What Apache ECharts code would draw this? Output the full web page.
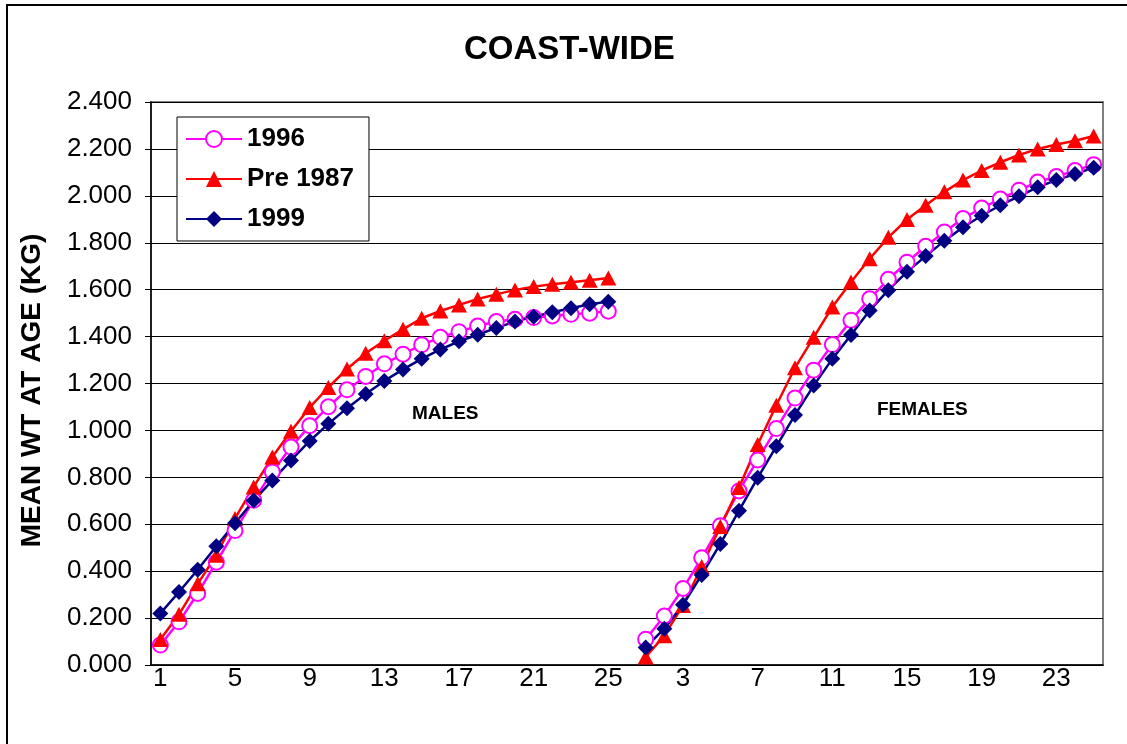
<!DOCTYPE html>
<html>
<head>
<meta charset="utf-8">
<script src="https://cdn.jsdelivr.net/npm/echarts@6/dist/echarts.min.js"></script>
<style>html,body{margin:0;padding:0;background:#fff}#c{width:1127px;height:744px}</style>
</head>
<body>
<div id="c"></div>
<script>
const maleAges = ['1','2','3','4','5','6','7','8','9','10','11','12','13','14','15','16','17','18','19','20','21','22','23','24','25'];
const femaleAges = ['1','2','3','4','5','6','7','8','9','10','11','12','13','14','15','16','17','18','19','20','21','22','23','24','25'];
const gapLabel = [''];

const male1996 = [0.085,0.184,0.305,0.438,0.573,0.702,0.823,0.929,1.020,1.101,1.173,1.230,1.284,1.325,1.365,1.397,1.421,1.445,1.464,1.474,1.481,1.488,1.495,1.500,1.508];
const malePre1987 = [0.109,0.216,0.346,0.468,0.625,0.759,0.887,0.996,1.098,1.183,1.262,1.329,1.382,1.431,1.478,1.509,1.535,1.560,1.580,1.599,1.613,1.623,1.632,1.640,1.650];
const male1999 = [0.220,0.311,0.406,0.506,0.604,0.701,0.787,0.872,0.955,1.028,1.095,1.155,1.211,1.260,1.305,1.345,1.380,1.408,1.437,1.464,1.485,1.504,1.521,1.538,1.549];

const female1996 = [0.110,0.209,0.326,0.457,0.594,0.742,0.874,1.008,1.138,1.257,1.366,1.470,1.561,1.644,1.717,1.785,1.846,1.903,1.948,1.986,2.024,2.059,2.082,2.108,2.133];
const femalePre1987 = [0.034,0.125,0.254,0.420,0.590,0.757,0.940,1.107,1.267,1.397,1.526,1.633,1.732,1.823,1.899,1.960,2.017,2.067,2.108,2.143,2.174,2.200,2.219,2.235,2.255];
const female1999 = [0.075,0.155,0.257,0.384,0.516,0.658,0.798,0.932,1.066,1.191,1.305,1.407,1.511,1.598,1.676,1.743,1.808,1.866,1.915,1.960,1.998,2.037,2.067,2.093,2.120];

const yTicks = [0,0.2,0.4,0.6,0.8,1.0,1.2,1.4,1.6,1.8,2.0,2.2,2.4];

const categories = maleAges.concat(gapLabel, femaleAges);
const join = (m, f) => m.concat([null], f);

const FONT = '"Liberation Sans", Arial, sans-serif';
const chart = echarts.init(document.getElementById('c'), null, {renderer: 'canvas'});
chart.setOption({
  backgroundColor: '#fff',
  animation: false,
  title: {
    text: 'COAST-WIDE',
    left: 464, top: 33, padding: 0,
    textStyle: {fontFamily: FONT, fontSize: 33, fontWeight: 'bold', color: '#000'}
  },
  grid: {
    left: 151, right: 24, top: 102, bottom: 79,
    show: true, borderColor: '#808080', borderWidth: 2, backgroundColor: 'transparent'
  },
  legend: {
    orient: 'vertical', left: 177, top: 117,
    padding: [9, 15, 9, 8],
    itemWidth: 56, itemHeight: 20, itemGap: 14,
    backgroundColor: '#fff', borderColor: '#000', borderWidth: 1,
    textStyle: {fontFamily: FONT, fontSize: 26, fontWeight: 'bold', color: '#000', lineHeight: 26},
    data: ['1996', 'Pre 1987', '1999']
  },
  xAxis: {
    type: 'category', data: categories, boundaryGap: true,
    axisLine: {lineStyle: {color: '#000', width: 1.5}},
    axisTick: {interval: 0, length: 6, lineStyle: {color: '#000'}},
    axisLabel: {interval: 3, margin: 1, fontFamily: FONT, fontSize: 26, color: '#000'},
    splitLine: {show: false}
  },
  yAxis: {
    type: 'value', min: yTicks[0], max: yTicks[yTicks.length - 1], interval: 0.2,
    name: 'MEAN WT AT AGE (KG)', nameLocation: 'middle', nameGap: 105,
    nameTextStyle: {fontFamily: FONT, fontSize: 28, fontWeight: 'bold', color: '#000', padding: [0, 14, 0, 0]},
    axisLine: {show: true, lineStyle: {color: '#000', width: 1.5}},
    axisTick: {show: true, length: 6, lineStyle: {color: '#000'}},
    axisLabel: {margin: 19, fontFamily: FONT, fontSize: 26, color: '#000', formatter: v => v.toFixed(3)},
    splitLine: {lineStyle: {color: '#000', width: 1}}
  },
  series: [
    {
      name: '1996', type: 'line', data: join(male1996, female1996),
      symbol: 'circle', symbolSize: 15, showAllSymbol: true,
      lineStyle: {color: '#FF00FF', width: 2.5},
      itemStyle: {color: '#fff', borderColor: '#FF00FF', borderWidth: 2}
    },
    {
      name: 'Pre 1987', type: 'line', data: join(malePre1987, femalePre1987),
      symbol: 'triangle', symbolSize: [16, 15], showAllSymbol: true,
      lineStyle: {color: '#FF0000', width: 2.5},
      itemStyle: {color: '#FF0000'}
    },
    {
      name: '1999', type: 'line', data: join(male1999, female1999),
      symbol: 'diamond', symbolSize: 16, showAllSymbol: true,
      lineStyle: {color: '#000080', width: 2.5},
      itemStyle: {color: '#000080'}
    }
  ],
  graphic: [
    {type: 'rect', z: -10, silent: true, shape: {x: 7, y: 5, width: 1300, height: 900},
     style: {fill: 'none', stroke: '#000', lineWidth: 2}},
    {type: 'text', left: 412, top: 404, silent: true,
     style: {text: 'MALES', font: 'bold 19px "Liberation Sans", Arial, sans-serif', fill: '#000'}},
    {type: 'text', left: 877, top: 400, silent: true,
     style: {text: 'FEMALES', font: 'bold 19px "Liberation Sans", Arial, sans-serif', fill: '#000'}}
  ]
});
</script>
</body>
</html>
